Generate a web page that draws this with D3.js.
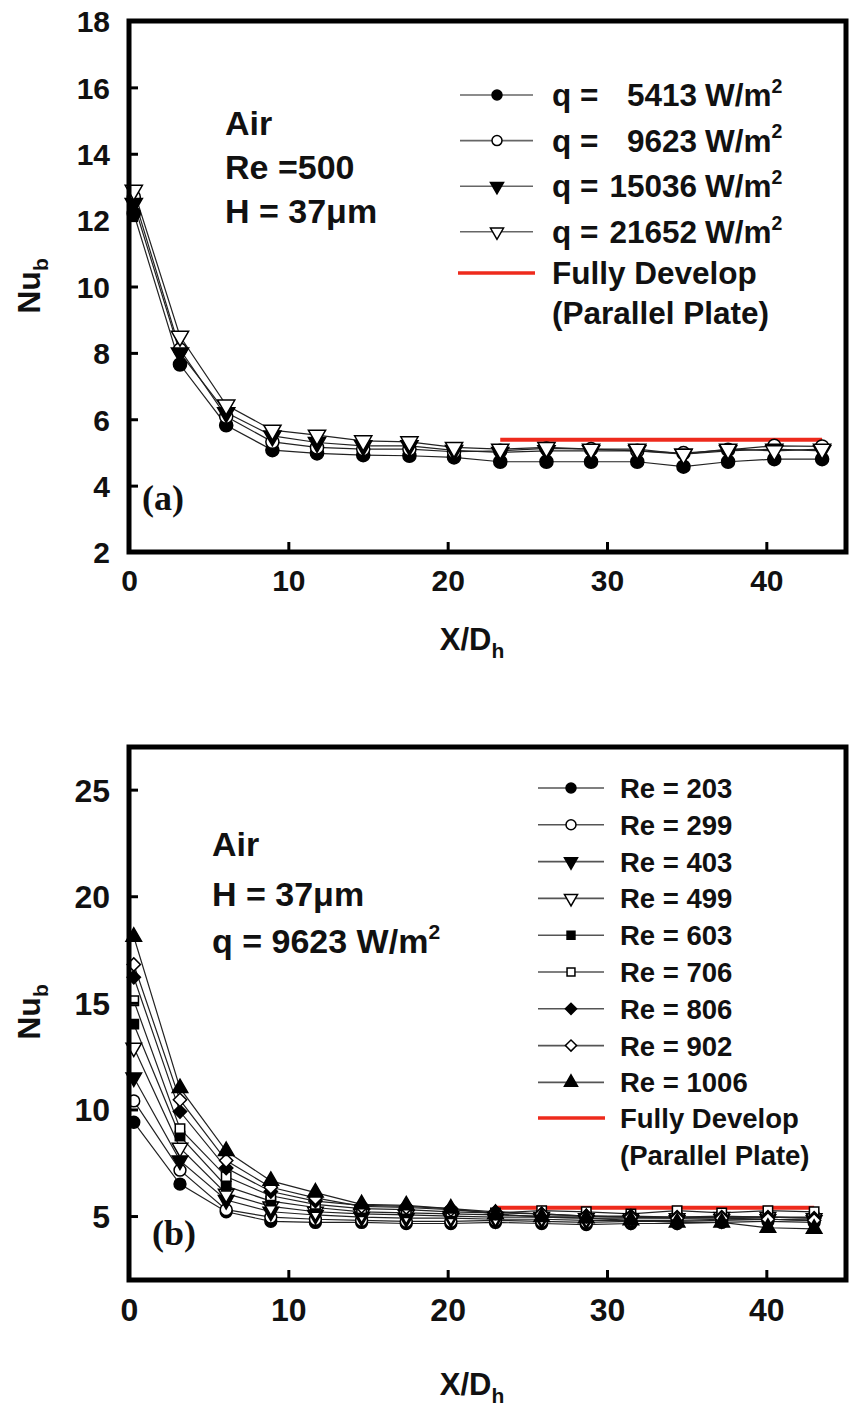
<!DOCTYPE html>
<html>
<head>
<meta charset="utf-8">
<script src="https://cdn.jsdelivr.net/npm/d3@7"></script>
<style>
  html, body { margin: 0; padding: 0; background: #fff; }
  svg { display: block; }
  text { font-family: "Liberation Sans", Arial, sans-serif; font-weight: bold; fill: #111; }
  text.tag { font-family: "Liberation Serif", "Times New Roman", serif; }
</style>
</head>
<body>
<svg id="fig" width="850" height="1413"></svg>
<script>
// ---------- Panel (a): Air, Re = 500, H = 37 µm, varying heat flux ----------
const xA = [0.3, 3.2, 6.1, 9.0, 11.8, 14.7, 17.6, 20.4, 23.3, 26.2, 29.0, 31.9, 34.8, 37.6, 40.5, 43.5];
const fluxLabels = ["5413", "9623", "15036", "21652"];
const fluxSymbols = ["circleFilled", "circleOpen", "triDownFilled", "triDownOpen"];
const nuA_5413  = [12.2, 7.65, 5.82, 5.07, 4.97, 4.92, 4.90, 4.85, 4.72, 4.72, 4.72, 4.72, 4.57, 4.72, 4.80, 4.80];
const nuA_9623  = [12.7, 8.10, 6.08, 5.32, 5.15, 5.10, 5.10, 5.02, 5.05, 5.12, 5.10, 5.05, 4.98, 5.08, 5.20, 5.18];
const nuA_15036 = [12.5, 8.00, 6.20, 5.50, 5.30, 5.20, 5.20, 5.06, 5.00, 5.05, 5.05, 5.05, 4.95, 5.05, 5.10, 5.05];
const nuA_21652 = [12.9, 8.50, 6.43, 5.67, 5.52, 5.35, 5.32, 5.15, 5.10, 5.15, 5.10, 5.10, 4.95, 5.10, 5.05, 5.10];
const yTicksA = [2, 4, 6, 8, 10, 12, 14, 16, 18];

// ---------- Panel (b): Air, H = 37 µm, q = 9623 W/m², varying Re ----------
const xB = [0.3, 3.2, 6.1, 8.9, 11.7, 14.6, 17.4, 20.2, 23.0, 25.9, 28.7, 31.5, 34.4, 37.2, 40.1, 43.0];
const reLabels = ["203", "299", "403", "499", "603", "706", "806", "902", "1006"];
const reSymbols = ["circleFilled", "circleOpen", "triDownFilled", "triDownOpen", "squareFilled",
                   "squareOpen", "diamondFilled", "diamondOpen", "triUpFilled"];
const nuB_203  = [9.4, 6.50, 5.20, 4.75, 4.70, 4.70, 4.65, 4.65, 4.70, 4.65, 4.60, 4.65, 4.65, 4.70, 4.75, 4.70];
const nuB_299  = [10.4, 7.15, 5.30, 4.95, 4.85, 4.80, 4.75, 4.75, 4.80, 4.75, 4.70, 4.75, 4.75, 4.80, 4.85, 4.80];
const nuB_403  = [11.5, 7.60, 5.75, 5.20, 5.05, 4.95, 4.90, 4.90, 4.85, 4.85, 4.80, 4.80, 4.80, 4.85, 4.85, 4.80];
const nuB_499  = [12.9, 8.20, 6.05, 5.45, 5.20, 5.10, 5.05, 5.00, 4.95, 4.95, 4.90, 4.90, 4.90, 4.95, 4.95, 4.90];
const nuB_603  = [14.0, 8.75, 6.40, 5.70, 5.40, 5.20, 5.15, 5.10, 5.05, 5.00, 5.00, 4.95, 4.95, 5.00, 4.95, 4.95];
const nuB_706  = [15.1, 9.10, 6.85, 5.95, 5.55, 5.35, 5.30, 5.20, 5.15, 5.25, 5.20, 5.10, 5.25, 5.15, 5.25, 5.20];
const nuB_806  = [16.2, 9.90, 7.25, 6.15, 5.70, 5.50, 5.45, 5.35, 5.20, 5.10, 5.00, 5.00, 4.95, 4.95, 4.95, 4.90];
const nuB_902  = [16.8, 10.45, 7.60, 6.35, 5.85, 5.45, 5.40, 5.30, 5.15, 5.10, 5.00, 4.95, 4.90, 4.90, 4.85, 4.80];
const nuB_1006 = [18.1, 11.0, 8.05, 6.65, 6.10, 5.55, 5.50, 5.35, 5.10, 4.95, 4.90, 4.80, 4.70, 4.70, 4.45, 4.40];
const yTicksB = [5, 10, 15, 20, 25];

// Fully developed parallel-plate value and the x-extent it is drawn over
const nuFD = 5.385;
const fdRangeA = [23.3, 43.5];
const fdRangeB = [23.0, 43.0];
const xTicks = [0, 10, 20, 30, 40];

const RED = "#ee2a1c";
const svg = d3.select("#fig");

function symbolPath(kind, size) {
  let type = d3.symbolCircle, rot = 0;
  if (kind.startsWith("triDown")) { type = d3.symbolTriangle; rot = 180; }
  else if (kind.startsWith("triUp")) { type = d3.symbolTriangle; }
  else if (kind.startsWith("square")) { type = d3.symbolSquare; }
  else if (kind.startsWith("diamond")) { type = d3.symbolSquare; rot = 45; }
  let s = size;
  if (type === d3.symbolTriangle) s = size * 0.95;
  if (type === d3.symbolSquare) s = size * 0.8;
  return { d: d3.symbol().type(type).size(s)(), rot };
}
function drawMarker(g, kind, x, y, size) {
  const p = symbolPath(kind, size);
  g.append("path")
    .attr("d", p.d)
    .attr("transform", `translate(${x},${y}) rotate(${p.rot})`)
    .attr("fill", kind.endsWith("Filled") ? "#000" : "#fff")
    .attr("stroke", "#000")
    .attr("stroke-width", 1.5);
}

function panel(cfg) {
  const x = d3.scaleLinear().domain([0, 45]).range([129, 846]);
  const y = d3.scaleLinear().domain(cfg.yDomain).range([cfg.bottom, cfg.top]);
  const g = svg.append("g");

  // series lines
  const line = d3.line().x((d, i) => x(cfg.xs[i])).y(d => y(d));
  cfg.series.forEach(s => {
    g.append("path").attr("d", line(s.values))
      .attr("fill", "none").attr("stroke", "#222").attr("stroke-width", 1.2);
  });
  // fully developed reference line
  g.append("line")
    .attr("x1", x(cfg.fdRange[0])).attr("x2", x(cfg.fdRange[1]))
    .attr("y1", y(nuFD)).attr("y2", y(nuFD))
    .attr("stroke", RED).attr("stroke-width", 4);
  // markers
  cfg.series.forEach(s => {
    s.values.forEach((v, i) => drawMarker(g, s.symbol, x(cfg.xs[i]), y(v), cfg.markerSize));
  });

  // axes with inward ticks
  const yAxis = d3.axisLeft(y).tickValues(cfg.yTicks).tickSizeInner(-9).tickSizeOuter(0).tickPadding(19);
  const xAxis = d3.axisBottom(x).tickValues(xTicks).tickSizeInner(-10).tickSizeOuter(0).tickPadding(18);
  const ya = g.append("g").attr("transform", `translate(${x(0)},0)`).call(yAxis);
  const xa = g.append("g").attr("transform", `translate(0,${cfg.bottom})`).call(xAxis);
  [ya, xa].forEach(a => {
    a.select(".domain").remove();
    a.selectAll(".tick line").attr("stroke", "#000").attr("stroke-width", 3);
    a.selectAll(".tick text").attr("font-size", cfg.tickFont).attr("fill", "#111");
  });
  ya.selectAll(".tick text").attr("dy", "0.36em");
  xa.selectAll(".tick").filter(d => d === 0).select("line").remove();

  // frame
  g.append("rect")
    .attr("x", x(0)).attr("y", cfg.top)
    .attr("width", x(45) - x(0)).attr("height", cfg.bottom - cfg.top)
    .attr("fill", "none").attr("stroke", "#000").attr("stroke-width", 5);

  // axis titles
  const yt = g.append("text")
    .attr("transform", `translate(${cfg.yTitleX},${cfg.yTitleY}) rotate(-90)`)
    .attr("text-anchor", "middle").attr("font-size", 32);
  yt.append("tspan").text("Nu");
  yt.append("tspan").text("b").attr("font-size", 21).attr("dy", 8);

  const xt = g.append("text")
    .attr("x", cfg.xTitleX).attr("y", cfg.xTitleY)
    .attr("text-anchor", "middle").attr("font-size", 31);
  xt.append("tspan").text("X/D");
  xt.append("tspan").text("h").attr("font-size", 21).attr("dy", 8);

  // panel tag (serif)
  g.append("text").attr("class", "tag")
    .attr("x", cfg.tagX).attr("y", cfg.tagY)
    .attr("font-size", 36)
    .text(cfg.tag);

  return { g, x, y };
}

function supText(g, x, y, size, parts) {
  const t = g.append("text").attr("x", x).attr("y", y).attr("font-size", size);
  parts.forEach(p => {
    const ts = t.append("tspan").text(p.t);
    if (p.sup) ts.attr("font-size", size * 0.62).attr("dy", -size * 0.42);
  });
  return t;
}

// ----- panel (a) -----
const seriesA = [nuA_5413, nuA_9623, nuA_15036, nuA_21652].map((v, i) => ({ values: v, symbol: fluxSymbols[i] }));
const pa = panel({
  xs: xA, series: seriesA, yDomain: [2, 18], top: 21, bottom: 552, yTicks: yTicksA,
  fdRange: fdRangeA, markerSize: 135, tickFont: 30,
  yTitleX: 40, yTitleY: 286, xTitleX: 472, xTitleY: 650,
  tag: "(a)", tagX: 142, tagY: 510
});
["Air", "Re =500", "H = 37\u03bcm"].forEach((s, i) => {
  pa.g.append("text").attr("x", 225).attr("y", 135 + i * 44).attr("font-size", 34).text(s);
});
// legend (a)
fluxLabels.forEach((lab, i) => {
  const cy = 95 + i * 45.6;
  pa.g.append("line").attr("x1", 460).attr("x2", 533).attr("y1", cy).attr("y2", cy)
    .attr("stroke", "#666").attr("stroke-width", 1.6);
  drawMarker(pa.g, fluxSymbols[i], 497, cy, 78);
  const by = cy + 11;
  pa.g.append("text").attr("x", 552).attr("y", by).attr("font-size", 31.5).text("q =");
  pa.g.append("text").attr("x", 697).attr("y", by).attr("font-size", 31.5).attr("text-anchor", "end").text(lab);
  supText(pa.g, 705, by, 31.5, [{ t: "W/m" }, { t: "2", sup: true }]);
});
pa.g.append("line").attr("x1", 458).attr("x2", 535).attr("y1", 273).attr("y2", 273)
  .attr("stroke", RED).attr("stroke-width", 3.5);
pa.g.append("text").attr("x", 552).attr("y", 284).attr("font-size", 31.5).text("Fully Develop");
pa.g.append("text").attr("x", 552).attr("y", 324).attr("font-size", 31.5).text("(Parallel Plate)");

// ----- panel (b) -----
const seriesB = [nuB_203, nuB_299, nuB_403, nuB_499, nuB_603, nuB_706, nuB_806, nuB_902, nuB_1006]
  .map((v, i) => ({ values: v, symbol: reSymbols[i] }));
const pb = panel({
  xs: xB, series: seriesB, yDomain: [2, 27], top: 747, bottom: 1280, yTicks: yTicksB,
  fdRange: fdRangeB, markerSize: 110, tickFont: 32,
  yTitleX: 40, yTitleY: 1012, xTitleX: 472, xTitleY: 1395,
  tag: "(b)", tagX: 152, tagY: 1245
});
pb.g.append("text").attr("x", 212).attr("y", 856).attr("font-size", 34).text("Air");
pb.g.append("text").attr("x", 212).attr("y", 906).attr("font-size", 34).text("H = 37\u03bcm");
supText(pb.g, 212, 953, 34, [{ t: "q = 9623 W/m" }, { t: "2", sup: true }]);
// legend (b)
reLabels.forEach((lab, i) => {
  const cy = 788 + i * 36.8;
  pb.g.append("line").attr("x1", 538).attr("x2", 604).attr("y1", cy).attr("y2", cy)
    .attr("stroke", "#555").attr("stroke-width", 1.6);
  drawMarker(pb.g, reSymbols[i], 571, cy, 78);
  pb.g.append("text").attr("x", 620).attr("y", cy + 10).attr("font-size", 27.5).text("Re = " + lab);
});
pb.g.append("line").attr("x1", 538).attr("x2", 605).attr("y1", 1118).attr("y2", 1118)
  .attr("stroke", RED).attr("stroke-width", 3.5);
pb.g.append("text").attr("x", 620).attr("y", 1128).attr("font-size", 27.5).text("Fully Develop");
pb.g.append("text").attr("x", 620).attr("y", 1165).attr("font-size", 27.5).text("(Parallel Plate)");
</script>
</body>
</html>
